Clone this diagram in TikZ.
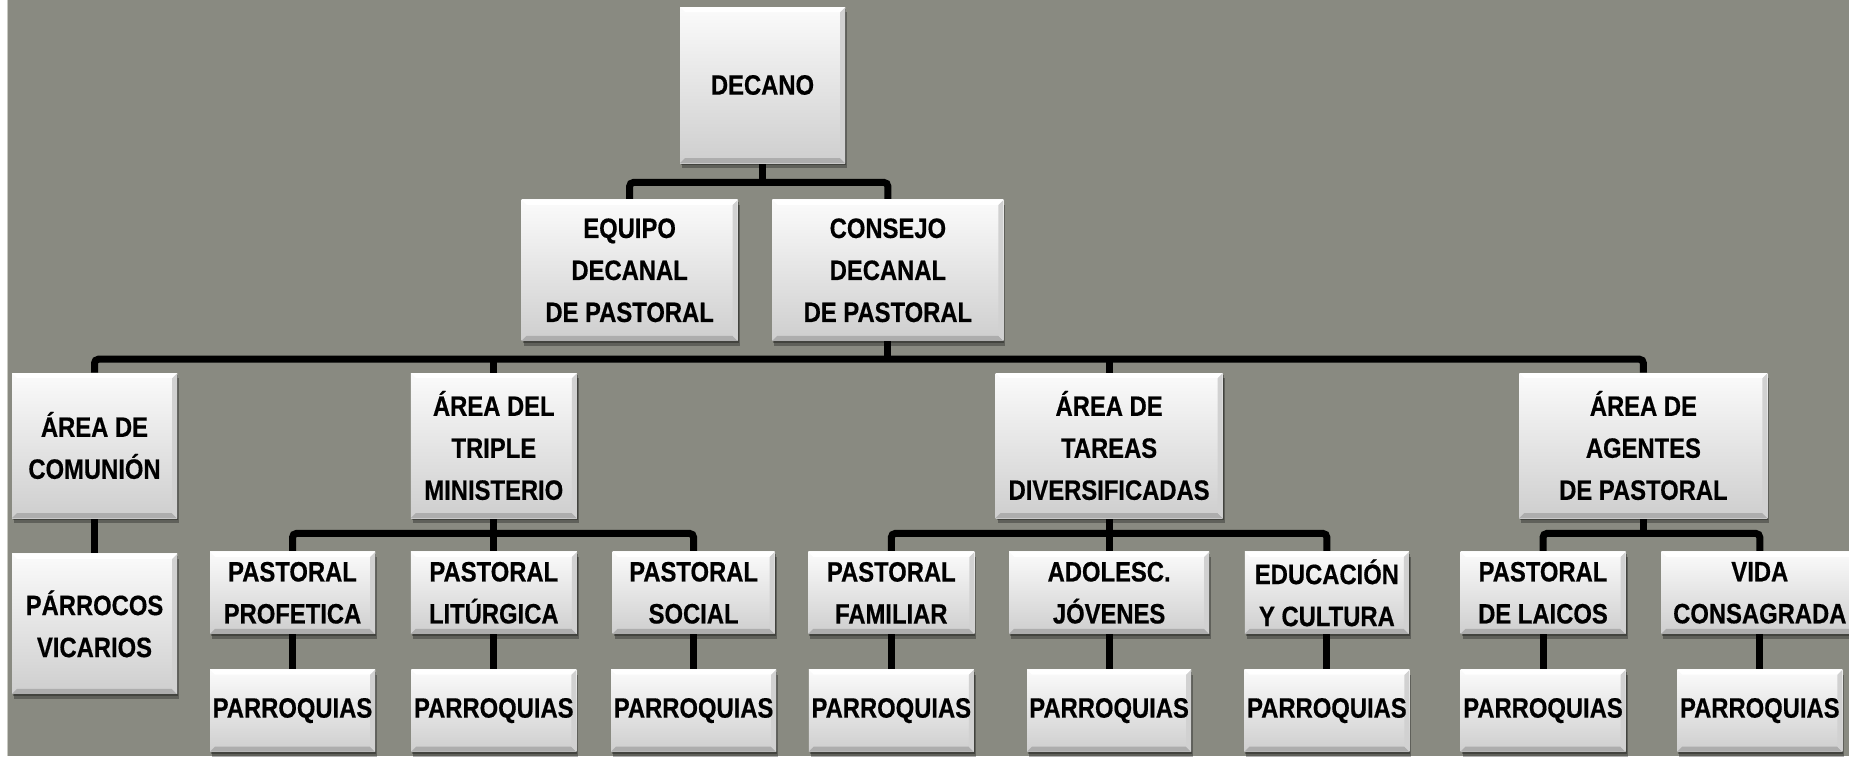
\documentclass[tikz,border=0pt]{standalone}
\usepackage{fontspec}
\setmainfont{Liberation Sans}[FakeStretch=0.85, BoldFeatures={FakeBold=0.5}]
\usetikzlibrary{positioning,calc}
\usetikzlibrary{shadows}

\pgfdeclarelayer{back}
\pgfdeclarelayer{links}
\pgfsetlayers{back,links,main}

\definecolor{bggray}{RGB}{137,138,129}
\definecolor{bgline}{RGB}{200,201,194}
\definecolor{boxtop}{RGB}{251,251,251}
\definecolor{boxbot}{RGB}{206,206,206}

\tikzset{
   orgbox/.style={rectangle, align=center, inner sep=0pt,
      font=\bfseries\fontsize{14}{21}\selectfont,
      top color=boxtop, bottom color=boxbot,
      drop shadow={shadow xshift=1pt, shadow yshift=-2.5pt, fill=black, opacity=0.3},
      drop shadow={shadow xshift=0.5pt, shadow yshift=-1.2pt, fill=black, opacity=0.3},
      path picture={
         \fill[black!32] (path picture bounding box.south west) -- ++(2.5pt,2.5pt)
            -- ([shift={(-2.5pt,2.5pt)}]path picture bounding box.south east)
            -- (path picture bounding box.south east) -- cycle;
         \fill[black!18] (path picture bounding box.south east) -- ++(-2.5pt,2.5pt)
            -- ([shift={(-2.5pt,-2.5pt)}]path picture bounding box.north east)
            -- (path picture bounding box.north east) -- cycle;
         \fill[white] (path picture bounding box.north west) -- ++(2.5pt,-2.5pt)
            -- ([shift={(-2.5pt,-2.5pt)}]path picture bounding box.north east)
            -- (path picture bounding box.north east) -- cycle;
      }},
   areabox/.style={orgbox, minimum height=72.5pt},
   subbox/.style={orgbox, minimum height=41pt},
   link/.style={line width=3.5pt, rounded corners=2pt, black}
}

\begin{document}
\begin{tikzpicture}[x=0.5pt, y=-0.5pt]
   \useasboundingbox (0,0) rectangle (1849,756);
   \begin{pgfonlayer}{back}
      \fill[white] (0,0) rectangle (1849,756);
      \fill[bggray] (7,0) rectangle (1849,756);
      \draw[bgline, line width=0.6pt] (7.5,0) -- (7.5,756);
   \end{pgfonlayer}

   % top
   \node[orgbox, minimum width=82.5pt, minimum height=78pt] (decano) at (762.5,85) {DECANO};
   \node[orgbox, minimum width=108pt, minimum height=70.5pt, below left=18pt and 12.25pt of decano.south] (equipo) {EQUIPO\\DECANAL\\DE PASTORAL};
   \node[orgbox, minimum width=115.5pt, minimum height=70.5pt, right=17pt of equipo] (consejo) {CONSEJO\\DECANAL\\DE PASTORAL};

   % areas
   \node[areabox, minimum width=82.5pt] (comunion) at (94.5,445.5) {ÁREA DE\\COMUNIÓN};
   \node[areabox, minimum width=83pt, right=116.5pt of comunion] (triple) {ÁREA DEL\\TRIPLE\\MINISTERIO};
   \node[areabox, minimum width=113.5pt, right=209pt of triple] (tareas) {ÁREA DE\\TAREAS\\DIVERSIFICADAS};
   \node[areabox, minimum width=124pt, right=148pt of tareas] (agentes) {ÁREA DE\\AGENTES\\DE PASTORAL};

   \node[orgbox, minimum width=82.5pt, minimum height=70pt, below=17.5pt of comunion] (parrocos) {PÁRROCOS\\VICARIOS};

   % pastorales
   \node[subbox, minimum width=83pt, below=16.5pt of triple] (liturgica) {PASTORAL\\LITÚRGICA};
   \node[subbox, minimum width=82.5pt, left=17.5pt of liturgica] (profetica) {PASTORAL\\PROFETICA};
   \node[subbox, minimum width=81pt, right=17.5pt of liturgica] (social) {PASTORAL\\SOCIAL};

   \node[subbox, minimum width=100pt, below=16.5pt of tareas] (jovenes) {ADOLESC.\\JÓVENES};
   \node[subbox, minimum width=83pt, left=17pt of jovenes] (familiar) {PASTORAL\\FAMILIAR};
   \node[subbox, minimum width=82pt, right=17.5pt of jovenes] (educacion) {EDUCACIÓN\\Y CULTURA};

   \node[subbox, minimum width=82.5pt, below left=16.5pt and 8.75pt of agentes.south] (laicos) {PASTORAL\\DE LAICOS};
   \node[subbox, minimum width=98.5pt, right=17.5pt of laicos] (consagrada) {VIDA\\CONSAGRADA};

   % parroquias
   \node[subbox, minimum width=82.5pt, below=17.5pt of profetica] (parrA) {PARROQUIAS};
   \node[subbox, minimum width=82.5pt, below=17.5pt of liturgica] (parrB) {PARROQUIAS};
   \node[subbox, minimum width=82.5pt, below=17.5pt of social] (parrC) {PARROQUIAS};
   \node[subbox, minimum width=82.5pt, below=17.5pt of familiar] (parrD) {PARROQUIAS};
   \node[subbox, minimum width=82pt, below=17.5pt of jovenes] (parrE) {PARROQUIAS};
   \node[subbox, minimum width=82.5pt, below=17.5pt of educacion] (parrF) {PARROQUIAS};
   \node[subbox, minimum width=82.5pt, below=17.5pt of laicos] (parrG) {PARROQUIAS};
   \node[subbox, minimum width=82.5pt, below=17.5pt of consagrada] (parrH) {PARROQUIAS};

   \coordinate (bus0) at ([yshift=-9.5pt]decano.south);
   \coordinate (bus1) at ([yshift=-9pt]consejo.south);
   \coordinate (bus2) at ([yshift=-7.5pt]triple.south);
   \coordinate (bus3) at ([yshift=-7.5pt]tareas.south);
   \coordinate (bus4) at ([yshift=-7.5pt]agentes.south);

   \begin{pgfonlayer}{links}
      \draw[link] (decano) -- (bus0);
      \draw[link] (equipo.north) |- (bus0) -| (consejo.north);
      \draw[link] (consejo) -- (bus1);
      \draw[link] (comunion.north) |- (bus1) -| (agentes.north);
      \draw[link] (triple) -- (triple |- bus1);
      \draw[link] (tareas) -- (tareas |- bus1);
      \draw[link] (comunion) -- (parrocos);

      \draw[link] (triple) -- (liturgica);
      \draw[link] (profetica.north) |- (bus2) -| (social.north);
      \draw[link] (tareas) -- (jovenes);
      \draw[link] (familiar.north) |- (bus3) -| (educacion.north);
      \draw[link] (agentes) -- (bus4);
      \draw[link] (laicos.north) |- (bus4) -| (consagrada.north);

      \draw[link] (profetica) -- (parrA);
      \draw[link] (liturgica) -- (parrB);
      \draw[link] (social) -- (parrC);
      \draw[link] (familiar) -- (parrD);
      \draw[link] (jovenes) -- (parrE);
      \draw[link] (educacion) -- (parrF);
      \draw[link] (laicos) -- (parrG);
      \draw[link] (consagrada) -- (parrH);
   \end{pgfonlayer}
\end{tikzpicture}
\end{document}
